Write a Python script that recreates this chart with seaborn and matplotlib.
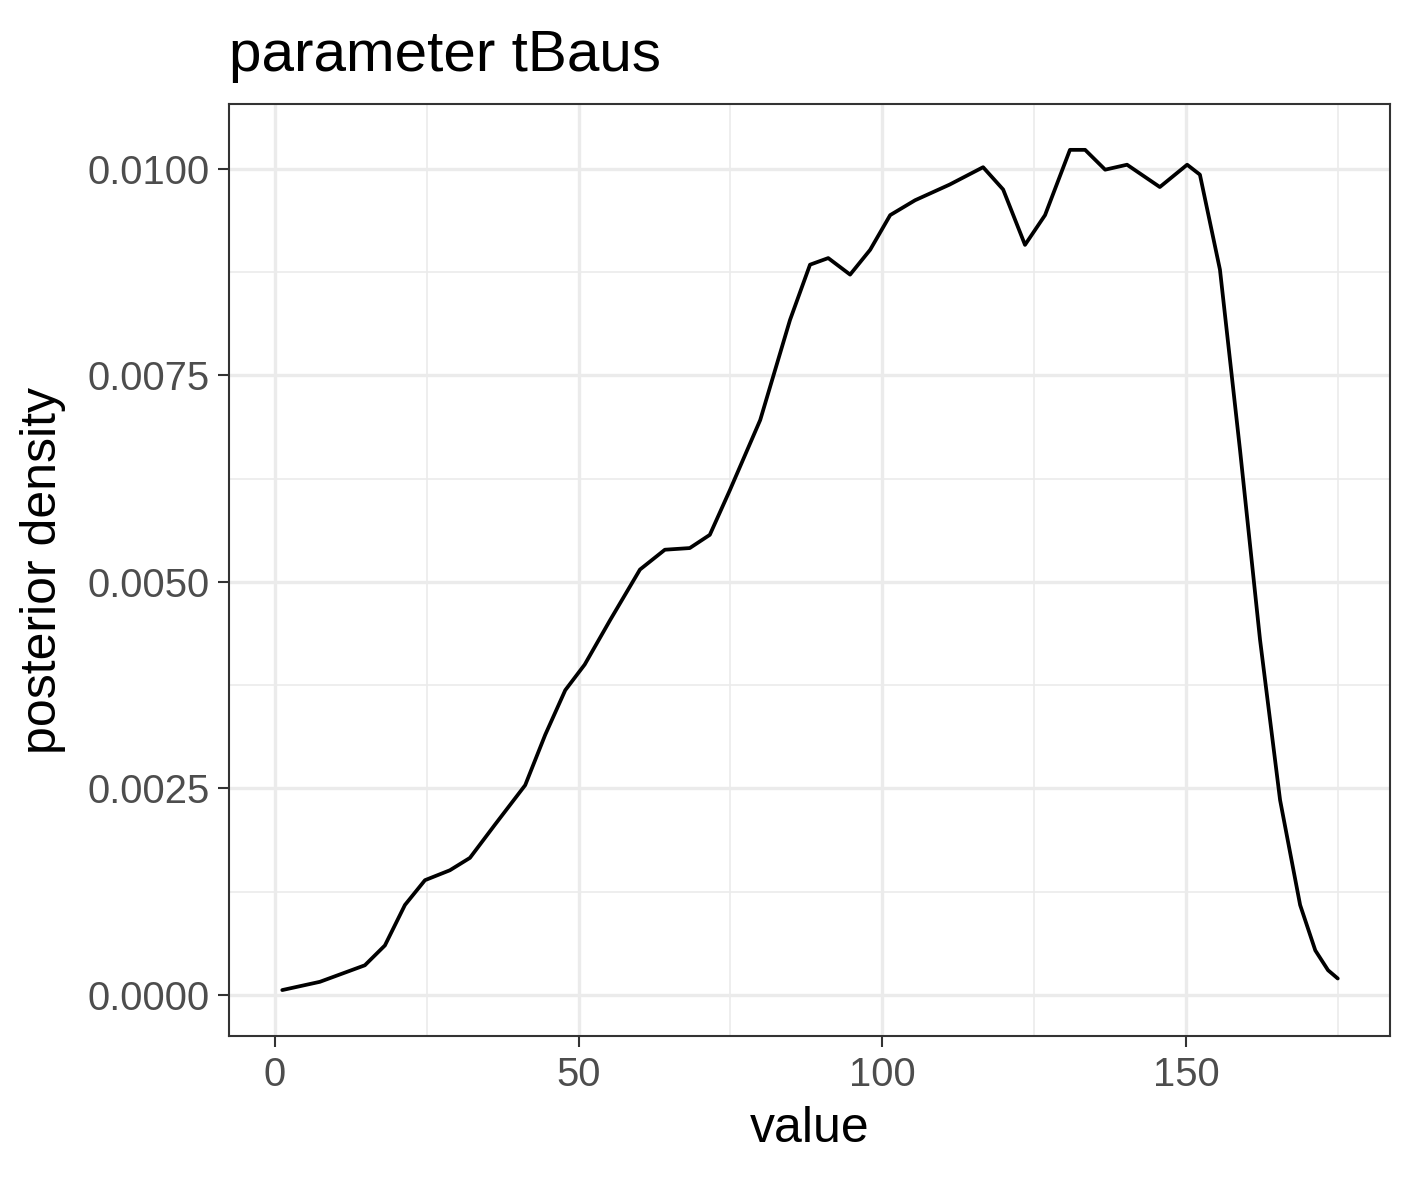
import numpy as np
import matplotlib
matplotlib.use("Agg")
import matplotlib.pyplot as plt
import seaborn as sns
from matplotlib.ticker import MultipleLocator

# posterior density of tBaus
values = [1.2, 7.4, 14.8, 18.1, 21.4, 24.7, 28.8, 32.1, 36.2, 41.2, 44.5, 47.8,
          51.0, 55.2, 60.1, 64.2, 68.3, 71.6, 74.9, 79.9, 84.8, 88.1, 91.1, 94.7,
          98.0, 101.3, 105.4, 111.1, 116.6, 119.9, 123.5, 126.8, 130.9, 133.4,
          136.7, 140.3, 145.7, 150.2, 152.3, 155.6, 158.9, 162.2, 165.5, 168.8,
          171.3, 173.4, 175.0]
density = [0.00006, 0.00016, 0.00036, 0.00060, 0.00109, 0.00139, 0.00151, 0.00166,
           0.00206, 0.00254, 0.00315, 0.00369, 0.00400, 0.00454, 0.00515, 0.00539,
           0.00541, 0.00557, 0.00611, 0.00696, 0.00817, 0.00884, 0.00892, 0.00872,
           0.00902, 0.00944, 0.00962, 0.00981, 0.01002, 0.00975, 0.00908, 0.00944,
           0.01023, 0.01023, 0.00999, 0.01005, 0.00978, 0.01005, 0.00993, 0.00878,
           0.00660, 0.00430, 0.00236, 0.00109, 0.00054, 0.00030, 0.00020]

sns.set_style("ticks")
plt.rcParams["font.family"] = ["Liberation Sans", "DejaVu Sans"]

fig, ax = plt.subplots(figsize=(1417 / 300, 1181 / 300), dpi=300)
fig.subplots_adjust(left=229 / 1417, right=1390 / 1417, top=1 - 104 / 1181, bottom=1 - 1036 / 1181)

sns.lineplot(x=values, y=density, ax=ax, color="black", linewidth=0.9)

ax.set_xlim(-7.57, 183.6)
ax.set_ylim(-0.000496, 0.010785)
ax.xaxis.set_major_locator(MultipleLocator(50))
ax.xaxis.set_minor_locator(MultipleLocator(25))
ax.yaxis.set_major_locator(MultipleLocator(0.0025))
ax.yaxis.set_minor_locator(MultipleLocator(0.00125))
ax.yaxis.set_major_formatter(matplotlib.ticker.FormatStrFormatter("%.4f"))
ax.grid(which="major", color="#EBEBEB", linewidth=0.8)
ax.grid(which="minor", color="#EBEBEB", linewidth=0.4)
ax.set_axisbelow(True)
for s in ax.spines.values():
    s.set_visible(True)
    s.set_color("#333333")
    s.set_linewidth(0.5)
ax.tick_params(which="major", length=2.7, width=0.5, color="#333333",
               labelsize=9.6, labelcolor="#4D4D4D", pad=2)
ax.tick_params(which="minor", length=0)
ax.set_xlabel("value", fontsize=12, color="black", labelpad=3)
ax.set_ylabel("posterior density", fontsize=12, color="black", labelpad=5)
ax.set_title("parameter tBaus", fontsize=14, loc="left", pad=8, color="black")

fig.savefig("out.png", dpi=300)
